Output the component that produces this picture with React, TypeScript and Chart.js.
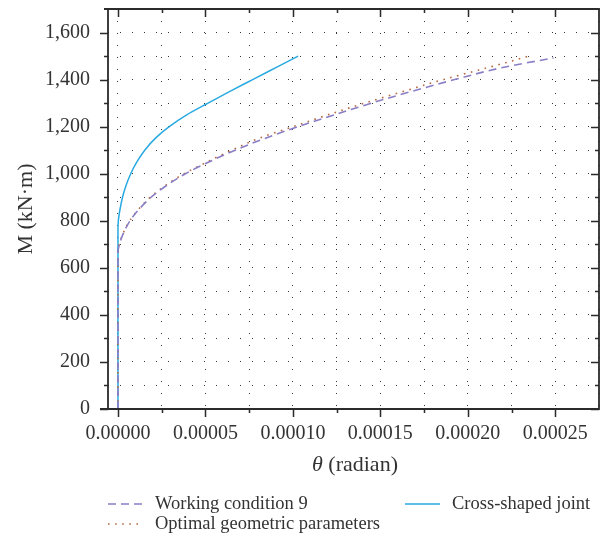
import React, { useEffect, useRef } from "react";
import { Chart, registerables } from "chart.js";

Chart.register(...registerables);

// Moment–rotation curves of the joint: M in kN·m, θ in radian
const workingMoment = [0, 670, 690, 740, 800, 850, 900, 950, 1000, 1050, 1100, 1150, 1200, 1250, 1300, 1350, 1400, 1450, 1492];
const workingTheta = [0, 0, 0.0000005, 0.0000027, 0.0000069, 0.0000122, 0.0000189, 0.0000278, 0.0000386, 0.000052, 0.000067, 0.000084, 0.000103, 0.0001235, 0.000145, 0.000168, 0.0001925, 0.000219, 0.000249];

const optimalMoment = [0, 670, 692, 742, 800, 850, 900, 950, 1000, 1050, 1100, 1150, 1200, 1250, 1300, 1350, 1400, 1450, 1485, 1500];
const optimalTheta = [0, 0, 0.0000005, 0.0000027, 0.0000067, 0.0000119, 0.0000185, 0.0000272, 0.0000378, 0.000051, 0.000065, 0.0000805, 0.0001, 0.00012, 0.000141, 0.0001633, 0.000186, 0.000211, 0.000228, 0.000235];

const crossMoment = [0, 760, 800, 850, 900, 950, 1000, 1050, 1100, 1150, 1200, 1250, 1300, 1350, 1400, 1450, 1500];
const crossTheta = [0, 0, 0.0000002, 0.0000012, 0.0000026, 0.0000046, 0.0000073, 0.0000108, 0.0000153, 0.0000213, 0.0000293, 0.0000393, 0.0000515, 0.000064, 0.000077, 0.00009, 0.000103];

const seriesLabels = ["Working condition 9", "Optimal geometric parameters", "Cross-shaped joint"];

// Grid positions (every position gets a dotted line and a tick mark)
const xGridTicks = [0, 0.000025, 0.00005, 0.000075, 0.0001, 0.000125, 0.00015, 0.000175, 0.0002, 0.000225, 0.00025, 0.000275];
const yGridTicks = [0, 100, 200, 300, 400, 500, 600, 700, 800, 900, 1000, 1100, 1200, 1300, 1400, 1500, 1600, 1700];
// Labelled (major) positions
const xLabelTicks = [0, 0.00005, 0.0001, 0.00015, 0.0002, 0.00025];
const yLabelTicks = [0, 200, 400, 600, 800, 1000, 1200, 1400, 1600];

const FONT = "'Liberation Serif', 'Times New Roman', serif";
const TEXT = "#333333";
const AXIS = "#2b2b2b";

const isIn = (list: number[], v: number, tol: number) => list.some((t) => Math.abs(t - v) < tol);

const toPoints = (thetas: number[], moments: number[]) => thetas.map((x, i) => ({ x, y: moments[i] }));

// Legend layout: [column x, row y] for each series
const legendSlots: [number, number][] = [
  [108, 504],
  [108, 524],
  [405, 504],
];

function drawFrame(chart: any) {
  const ctx = chart.ctx;
  const { left, right, top, bottom } = chart.chartArea;
  const xs = chart.scales.x;
  const ys = chart.scales.y;
  ctx.save();
  ctx.strokeStyle = AXIS;
  ctx.lineWidth = 1.8;
  ctx.setLineDash([]);
  ctx.beginPath();
  ctx.moveTo(left, top - 0.9);
  ctx.lineTo(left, bottom);
  ctx.moveTo(left - 4, top);
  ctx.lineTo(right, top);
  ctx.moveTo(right, top - 0.9);
  ctx.lineTo(right, bottom + 0.9);
  ctx.moveTo(left - 8, bottom);
  ctx.lineTo(right, bottom);
  ctx.stroke();

  ctx.lineWidth = 1.5;
  ctx.beginPath();
  for (const v of xGridTicks) {
    const px = Math.round(xs.getPixelForValue(v)) + 0.5;
    if (px > right - 2) continue;
    const len = isIn(xLabelTicks, v, 1e-9) ? 8 : 4;
    ctx.moveTo(px, bottom);
    ctx.lineTo(px, bottom + len);
    ctx.moveTo(px, top);
    ctx.lineTo(px, top + len);
  }
  for (const v of yGridTicks) {
    const py = Math.round(ys.getPixelForValue(v)) + 0.5;
    if (py < top + 2) continue;
    const len = isIn(yLabelTicks, v, 1e-6) ? 8 : 4;
    ctx.moveTo(left, py);
    ctx.lineTo(left - len, py);
    ctx.moveTo(right, py);
    ctx.lineTo(right - len, py);
  }
  ctx.stroke();
  ctx.restore();
}

function drawTexts(chart: any) {
  const ctx = chart.ctx;
  ctx.save();
  ctx.fillStyle = TEXT;
  ctx.textBaseline = "middle";

  // Y axis title
  ctx.save();
  ctx.translate(26, 209);
  ctx.rotate(-Math.PI / 2);
  ctx.font = `22px ${FONT}`;
  ctx.textAlign = "center";
  ctx.fillText("M (kN·m)", 0, 0);
  ctx.restore();

  // X axis title with italic theta
  const italic = `italic 22px ${FONT}`;
  const upright = `22px ${FONT}`;
  ctx.font = italic;
  const w1 = ctx.measureText("θ").width;
  ctx.font = upright;
  const w2 = ctx.measureText(" (radian)").width;
  const x0 = 355 - (w1 + w2) / 2;
  ctx.textAlign = "left";
  ctx.font = italic;
  ctx.fillText("θ", x0, 465);
  ctx.font = upright;
  ctx.fillText(" (radian)", x0 + w1, 465);

  // Legend
  const legendFont = `18.5px ${FONT}`;
  chart.data.datasets.forEach((ds: any, i: number) => {
    const [lx, ly] = legendSlots[i];
    ctx.save();
    ctx.strokeStyle = ds.borderColor;
    ctx.lineWidth = ds.borderWidth;
    ctx.setLineDash(ds.borderDash || []);
    ctx.beginPath();
    ctx.moveTo(lx, ly);
    ctx.lineTo(lx + 35, ly);
    ctx.stroke();
    ctx.restore();
    ctx.font = legendFont;
    ctx.fillStyle = TEXT;
    ctx.fillText(ds.label, lx + 47, ly);
  });
  ctx.restore();
}

const framePlugin = {
  id: "frameAndTexts",
  afterDraw(chart: any) {
    drawFrame(chart);
    drawTexts(chart);
  },
};

export default function App() {
  const canvasRef = useRef<HTMLCanvasElement | null>(null);

  useEffect(() => {
    if (!canvasRef.current) return;
    const chart = new Chart(canvasRef.current, {
      type: "line",
      data: {
        datasets: [
          {
            label: seriesLabels[0],
            data: toPoints(workingTheta, workingMoment),
            borderColor: "#8a7ec6",
            borderWidth: 1.6,
            borderDash: [8, 5],
            pointRadius: 0,
            cubicInterpolationMode: "monotone",
          },
          {
            label: seriesLabels[1],
            data: toPoints(optimalTheta, optimalMoment),
            borderColor: "#b5693f",
            borderWidth: 1.6,
            borderDash: [1.6, 5.5],
            pointRadius: 0,
            cubicInterpolationMode: "monotone",
          },
          {
            label: seriesLabels[2],
            data: toPoints(crossTheta, crossMoment),
            borderColor: "#29a9e1",
            borderWidth: 1.5,
            pointRadius: 0,
            cubicInterpolationMode: "monotone",
          },
        ],
      },
      options: {
        animation: false,
        responsive: false,
        indexAxis: "y",
        layout: { padding: { left: 0, top: 9, right: 11, bottom: 62 } },
        plugins: { legend: { display: false }, tooltip: { enabled: false } },
        scales: {
          x: {
            type: "linear",
            min: -0.0000057,
            max: 0.000275,
            afterBuildTicks: (s: any) => {
              s.ticks = xGridTicks.map((value) => ({ value }));
            },
            afterFit: (s: any) => {
              s.height = 70;
              s.paddingLeft = 0;
              s.paddingRight = 0;
            },
            ticks: {
              autoSkip: false,
              maxRotation: 0,
              padding: 13,
              color: TEXT,
              font: { family: FONT, size: 20 },
              callback: (v: any) => (isIn(xLabelTicks, Number(v), 1e-9) ? Number(v).toFixed(5) : ""),
            },
            grid: { color: "rgba(20,20,20,0.85)", lineWidth: 1, drawTicks: false },
            border: { display: false, dash: [1, 11] },
          },
          y: {
            type: "linear",
            min: 0,
            max: 1700,
            afterBuildTicks: (s: any) => {
              s.ticks = yGridTicks.map((value) => ({ value }));
            },
            afterFit: (s: any) => {
              s.width = 108;
              s.paddingTop = 0;
              s.paddingBottom = 0;
            },
            ticks: {
              autoSkip: false,
              padding: 18,
              color: TEXT,
              font: { family: FONT, size: 20 },
              callback: (v: any) => (isIn(yLabelTicks, Number(v), 1e-6) ? Number(v).toLocaleString("en-US") : ""),
            },
            grid: { color: "rgba(20,20,20,0.85)", lineWidth: 1, drawTicks: false },
            border: { display: false, dash: [1, 11] },
          },
        },
      },
      plugins: [framePlugin],
    });
    return () => chart.destroy();
  }, []);

  return (
    <div style={{ position: "absolute", left: 0, top: 0, width: 610, height: 541, background: "#fff" }}>
      <canvas ref={canvasRef} width={610} height={541} />
    </div>
  );
}
